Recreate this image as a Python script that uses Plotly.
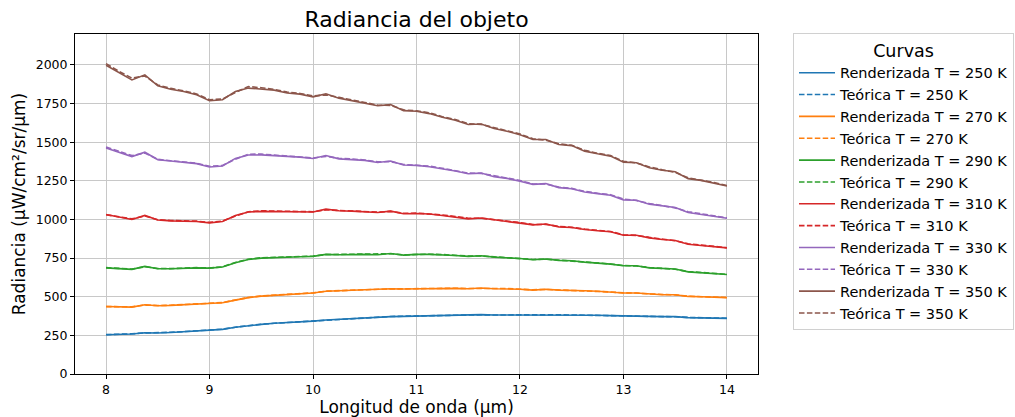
import plotly.graph_objects as go

# Wavelength grid (µm)
longitud = [8.0, 8.125, 8.25, 8.375, 8.5, 8.625, 8.75, 8.875, 9.0, 9.125, 9.25, 9.375, 9.5,
            9.625, 9.75, 9.875, 10.0, 10.125, 10.25, 10.375, 10.5, 10.625, 10.75, 10.875, 11.0,
            11.125, 11.25, 11.375, 11.5, 11.625, 11.75, 11.875, 12.0, 12.125, 12.25, 12.375, 12.5,
            12.625, 12.75, 12.875, 13.0, 13.125, 13.25, 13.375, 13.5, 13.625, 13.75, 13.875, 14.0]

temperaturas = [250, 270, 290, 310, 330, 350]

rend_250 = [254, 256, 259, 267, 265, 269, 274, 278, 282, 289, 302, 313, 321, 328, 332, 336, 342,
            349, 354, 358, 365, 369, 371, 373, 375, 378, 378, 380, 380, 384, 382, 382, 382, 382,
            384, 382, 382, 380, 380, 378, 375, 375, 373, 371, 371, 365, 362, 362, 360]
teor_250 = [255, 257, 260, 266, 266, 270, 274, 279, 283, 290, 303, 314, 322, 328, 333, 337, 343,
            350, 355, 359, 365, 369, 372, 374, 376, 379, 379, 381, 381, 383, 382, 383, 382, 383,
            384, 383, 382, 381, 380, 378, 376, 375, 374, 372, 370, 366, 363, 362, 361]

rend_270 = [437, 435, 433, 448, 442, 444, 448, 452, 455, 461, 478, 494, 504, 509, 513, 517, 524,
            535, 539, 541, 545, 548, 552, 550, 552, 554, 554, 554, 552, 556, 552, 552, 548, 543,
            548, 543, 543, 539, 535, 530, 524, 524, 517, 513, 513, 502, 500, 496, 494]
teor_270 = [436, 435, 435, 446, 443, 445, 449, 453, 456, 462, 479, 495, 505, 510, 514, 518, 525,
            536, 540, 542, 546, 549, 551, 551, 553, 555, 555, 555, 553, 555, 553, 553, 549, 545,
            547, 544, 543, 540, 536, 531, 525, 524, 518, 514, 512, 503, 501, 497, 495]

rend_290 = [687, 682, 677, 696, 681, 681, 685, 687, 685, 692, 720, 741, 750, 754, 756, 759, 761,
            774, 772, 774, 774, 772, 780, 769, 774, 774, 772, 767, 761, 765, 756, 752, 747, 739,
            744, 735, 733, 724, 718, 711, 700, 700, 687, 681, 679, 661, 655, 651, 644]
teor_290 = [688, 683, 679, 694, 683, 682, 686, 688, 686, 693, 722, 743, 752, 756, 758, 760, 763,
            773, 774, 775, 775, 774, 778, 771, 775, 775, 773, 768, 763, 764, 758, 753, 748, 741,
            743, 737, 734, 726, 719, 712, 702, 699, 689, 682, 678, 663, 656, 652, 645]

rend_310 = [1032, 1016, 1000, 1026, 996, 991, 991, 987, 978, 987, 1026, 1048, 1052, 1052, 1050,
            1052, 1048, 1067, 1056, 1054, 1050, 1045, 1054, 1037, 1039, 1035, 1026, 1017, 1004,
            1009, 996, 987, 976, 965, 971, 952, 948, 935, 927, 920, 898, 898, 881, 870, 864, 840,
            831, 825, 816]
teor_310 = [1030, 1018, 1004, 1022, 998, 993, 992, 989, 981, 989, 1022, 1050, 1056, 1055, 1053,
            1054, 1050, 1062, 1058, 1056, 1052, 1048, 1052, 1040, 1041, 1037, 1029, 1019, 1008,
            1008, 999, 989, 980, 967, 968, 955, 949, 938, 929, 922, 901, 897, 884, 872, 862, 843,
            833, 826, 817]

rend_330 = [1463, 1435, 1407, 1435, 1386, 1378, 1371, 1361, 1339, 1346, 1395, 1417, 1418, 1414,
            1407, 1403, 1394, 1414, 1392, 1388, 1382, 1369, 1378, 1352, 1350, 1341, 1328, 1313,
            1296, 1300, 1277, 1266, 1247, 1227, 1232, 1206, 1199, 1178, 1167, 1157, 1127, 1124,
            1099, 1086, 1077, 1045, 1034, 1023, 1008]
teor_330 = [1468, 1438, 1413, 1430, 1389, 1380, 1373, 1364, 1344, 1349, 1390, 1422, 1423, 1417,
            1411, 1406, 1398, 1408, 1396, 1391, 1385, 1373, 1374, 1356, 1352, 1345, 1331, 1317,
            1300, 1298, 1281, 1268, 1252, 1229, 1229, 1210, 1201, 1182, 1170, 1160, 1132, 1123,
            1103, 1088, 1075, 1050, 1037, 1025, 1010]

rend_350 = [1998, 1950, 1903, 1936, 1865, 1843, 1828, 1807, 1768, 1775, 1828, 1850, 1843, 1837,
            1818, 1811, 1793, 1813, 1785, 1770, 1753, 1736, 1743, 1704, 1700, 1685, 1661, 1642,
            1614, 1618, 1588, 1571, 1548, 1517, 1517, 1485, 1478, 1442, 1425, 1410, 1371, 1367,
            1335, 1318, 1309, 1264, 1253, 1236, 1217]
teor_350 = [2008, 1958, 1915, 1928, 1870, 1848, 1832, 1812, 1775, 1779, 1822, 1860, 1852, 1842,
            1824, 1815, 1799, 1806, 1790, 1775, 1757, 1740, 1738, 1709, 1703, 1690, 1665, 1647,
            1620, 1615, 1593, 1575, 1553, 1522, 1513, 1490, 1480, 1448, 1428, 1414, 1376, 1366,
            1340, 1321, 1305, 1269, 1256, 1239, 1219]

renderizadas = [rend_250, rend_270, rend_290, rend_310, rend_330, rend_350]
teoricas = [teor_250, teor_270, teor_290, teor_310, teor_330, teor_350]
colores = ["#1f77b4", "#ff7f0e", "#2ca02c", "#d62728", "#9467bd", "#8c564b"]

FONT = "DejaVu Sans"

fig = go.Figure()
for T, r, t, c in zip(temperaturas, renderizadas, teoricas, colores):
    fig.add_trace(go.Scatter(x=longitud, y=r, mode="lines", name=f"Renderizada T = {T} K",
                             line=dict(color=c, width=1.6)))
    fig.add_trace(go.Scatter(x=longitud, y=t, mode="lines", name=f"Teórica T = {T} K",
                             line=dict(color=c, width=1.6, dash="5.5px,2.4px")))

axis_common = dict(
    showline=True, linecolor="black", linewidth=1, mirror=True,
    ticks="outside", ticklen=4, tickcolor="black", tickwidth=1,
    showgrid=True, gridcolor="#c8c8c8", gridwidth=1, zeroline=False,
    tickfont=dict(family=FONT, size=12.5, color="black"),
    automargin=False,
)

fig.update_layout(
    width=1015, height=417,
    margin=dict(l=75, r=257, t=34, b=43, autoexpand=False),
    paper_bgcolor="white", plot_bgcolor="white",
    font=dict(family=FONT, color="black"),
    title=dict(text="Radiancia del objeto", x=(75 + 758) / 2 / 1015, xanchor="center",
               y=1 - 19 / 417, yanchor="middle", font=dict(family=FONT, size=22, color="black")),
    xaxis=dict(range=[7.7, 14.3], tickvals=[8, 9, 10, 11, 12, 13, 14],
               title=dict(text="Longitud de onda (µm)", font=dict(family=FONT, size=17), standoff=12),
               **axis_common),
    yaxis=dict(range=[0, 2200], tickvals=[0, 250, 500, 750, 1000, 1250, 1500, 1750, 2000],
               title=dict(text="Radiancia (µW/cm²/sr/µm)", font=dict(family=FONT, size=17), standoff=5),
               **axis_common),
    legend=dict(xref="container", x=793 / 1015, xanchor="left",
                yref="container", y=1 - 33 / 417, yanchor="top",
                bordercolor="#d0d0d0", borderwidth=1, bgcolor="white",
                font=dict(family=FONT, size=14.5, color="black"),
                title=dict(text="Curvas", side="top center", font=dict(family=FONT, size=17.5)),
                tracegroupgap=0, itemwidth=36, maxheight=400),
    showlegend=True,
)

fig.write_html("out.html")
